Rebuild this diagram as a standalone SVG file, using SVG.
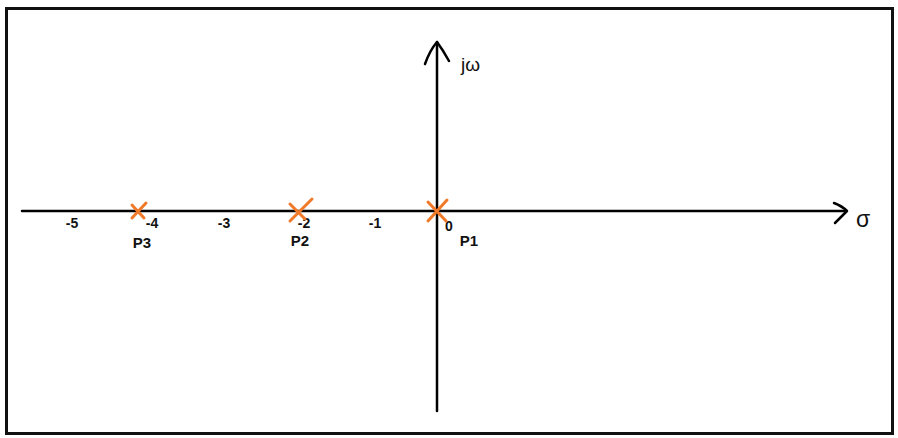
<svg xmlns="http://www.w3.org/2000/svg" width="898" height="438" viewBox="0 0 898 438">
<style>
.ax{stroke:#000;stroke-width:2.5;fill:none;stroke-linecap:round;stroke-linejoin:round}
.pole{stroke:#f07a2a;stroke-width:3;fill:none;stroke-linecap:round}
.tk{font-family:"Liberation Sans",Arial,sans-serif;font-size:14px;font-weight:bold;fill:#111;text-anchor:middle}
.pl{font-family:"Liberation Sans",Arial,sans-serif;font-size:15px;font-weight:bold;fill:#111;text-anchor:middle}
.ix{font-family:"Liberation Sans",Arial,sans-serif;fill:#111}
</style>
<rect x="0" y="0" width="898" height="438" fill="#fff"/>
<rect id="frame" x="6.5" y="8.5" width="886" height="425" fill="none" stroke="#111" stroke-width="3"/>
<g id="axes">
<line class="ax" x1="22" y1="211" x2="846" y2="211"/>
<path class="ax" d="M834 203 Q842 206 847 211 Q842 216 835 223"/>
<line class="ax" x1="437" y1="42" x2="437" y2="411"/>
<path class="ax" d="M425 64 Q430 50 437 42 Q443 50 449 61"/>
<text class="ix" x="461" y="71" font-size="19">jω</text>
<text class="ix" x="856" y="227" font-size="23">σ</text>
</g>
<g id="ticks">
<text class="tk" x="72" y="228">-5</text>
<text class="tk" x="152" y="228">-4</text>
<text class="tk" x="224" y="228">-3</text>
<text class="tk" x="304" y="228">-2</text>
<text class="tk" x="375" y="228">-1</text>
<text class="tk" x="449" y="231">0</text>
</g>
<g id="P3">
<path class="pole" d="M132 205 L144 218 M132 218 L146 203"/>
<text class="pl" x="142" y="248">P3</text>
</g>
<g id="P2">
<path class="pole" d="M290 204 L305 219 M290 221 L312 199"/>
<text class="pl" x="300" y="246">P2</text>
</g>
<g id="P1">
<path class="pole" d="M428 202 L446 221 M428 221 L447 200"/>
<text class="pl" x="469" y="246">P1</text>
</g>
</svg>
